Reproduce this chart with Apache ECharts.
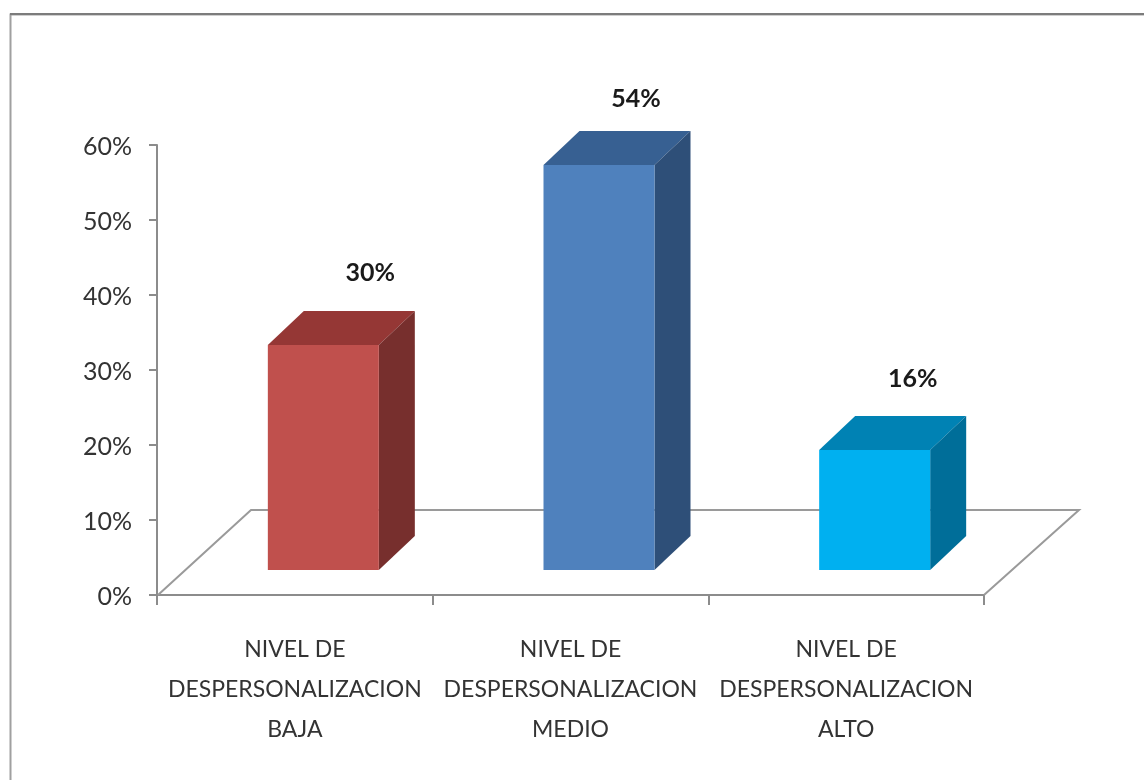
<!DOCTYPE html>
<html>
<head>
<meta charset="utf-8">
<style>html,body{margin:0;padding:0;background:#fff}#c{width:1144px;height:780px}</style>
<script src="https://cdn.jsdelivr.net/npm/echarts@6/dist/echarts.min.js"></script>
</head>
<body>
<div id="c"></div>
<script>
const categories = ["NIVEL DE\nDESPERSONALIZACION\nBAJA", "NIVEL DE\nDESPERSONALIZACION\nMEDIO", "NIVEL DE\nDESPERSONALIZACION\nALTO"];
const values = [30, 54, 16];
const yTicks = [0, 10, 20, 30, 40, 50, 60];
const frontColors = ["#C0504D", "#4F81BD", "#00B0F0"];
const topColors = ["#953735", "#376092", "#0082B4"];
const sideColors = ["#772F2D", "#2E4F78", "#006E99"];
const labelShift = [[47, -72], [37, -66], [38, -71]];

const FONT = 'Lato,"Liberation Sans",sans-serif';
const depthX = 36, depthY = 34, liftX = 28.5, liftY = 25, frontW = 111;

function renderBar(params, api) {
  const i = api.value(0);
  const v = api.value(1);
  const base = api.coord([i, 0]);
  const topP = api.coord([i, v]);
  const x0 = base[0] + liftX - frontW / 2;
  const x1 = x0 + frontW;
  const yb = base[1] - liftY;
  const yt = topP[1] - liftY;
  return {
    type: 'group',
    children: [
      {type: 'polygon', shape: {points: [[x0, yt], [x1, yt], [x1 + depthX, yt - depthY], [x0 + depthX, yt - depthY]]}, style: {fill: topColors[i]}},
      {type: 'polygon', shape: {points: [[x1, yt], [x1 + depthX, yt - depthY], [x1 + depthX, yb - depthY], [x1, yb]]}, style: {fill: sideColors[i]}},
      {type: 'rect', shape: {x: x0, y: yt, width: frontW, height: yb - yt}, style: {fill: frontColors[i]}},
      {type: 'text', style: {x: base[0] + liftX + labelShift[i][0], y: topP[1] - liftY + labelShift[i][1], text: values[i] + '%', align: 'center', verticalAlign: 'middle', fill: '#1a1a1a', font: 'bold 25px ' + FONT}}
    ]
  };
}

function renderFloor(params, api) {
  if (params.dataIndex !== 0) return null;
  const cs = params.coordSys;
  const x0 = cs.x, x1 = cs.x + cs.width, y = cs.y + cs.height, h = 85;
  return {
    type: 'polyline',
    shape: {points: [[x0 + 1, y], [x0 + 94, y - h], [x1 + 95, y - h], [x1, y]]},
    style: {fill: 'none', stroke: '#9a9a9a', lineWidth: 2}
  };
}

const chart = echarts.init(document.getElementById('c'), null, {renderer: 'canvas'});
chart.setOption({
  animation: false,
  backgroundColor: '#fff',
  graphic: [
    {type: 'polyline', shape: {points: [[10.5, 780], [10.5, 14.5], [1144, 14.5]]}, style: {fill: 'none', stroke: '#a0a0a0', lineWidth: 2}, silent: true},
    {type: 'line', shape: {x1: 10, y1: 14, x2: 1144, y2: 14}, style: {stroke: '#7c7c7c', lineWidth: 2}, silent: true}
  ],
  grid: {left: 157, top: 145, width: 827, height: 450, containLabel: false},
  xAxis: {
    type: 'category',
    data: categories,
    axisLine: {lineStyle: {color: '#8c8c8c', width: 2}},
    axisTick: {show: true, length: 10, alignWithLabel: false, lineStyle: {color: '#8c8c8c', width: 2}},
    axisLabel: {interval: 0, color: '#333', fontFamily: FONT, fontSize: 23, lineHeight: 40, margin: 35}
  },
  yAxis: {
    type: 'value',
    min: 0, max: 60, interval: 10,
    splitLine: {show: false},
    axisLine: {show: true, lineStyle: {color: '#8c8c8c', width: 2}},
    axisTick: {show: true, length: 8, lineStyle: {color: '#8c8c8c', width: 2}},
    axisLabel: {color: '#333', fontFamily: FONT, fontSize: 25, margin: 25, verticalAlign: 'top', lineHeight: 30, padding: [-13, 0, 0, 0], formatter: v => yTicks.includes(v) ? v + '%' : ''}
  },
  series: [
    {type: 'custom', coordinateSystem: 'cartesian2d', renderItem: renderFloor, data: values.map((v, i) => [i, v]), silent: true, z: 1},
    {type: 'custom', coordinateSystem: 'cartesian2d', renderItem: renderBar, data: values.map((v, i) => [i, v]), encode: {x: 0, y: 1}, clip: false, z: 2}
  ]
});
</script>
</body>
</html>
